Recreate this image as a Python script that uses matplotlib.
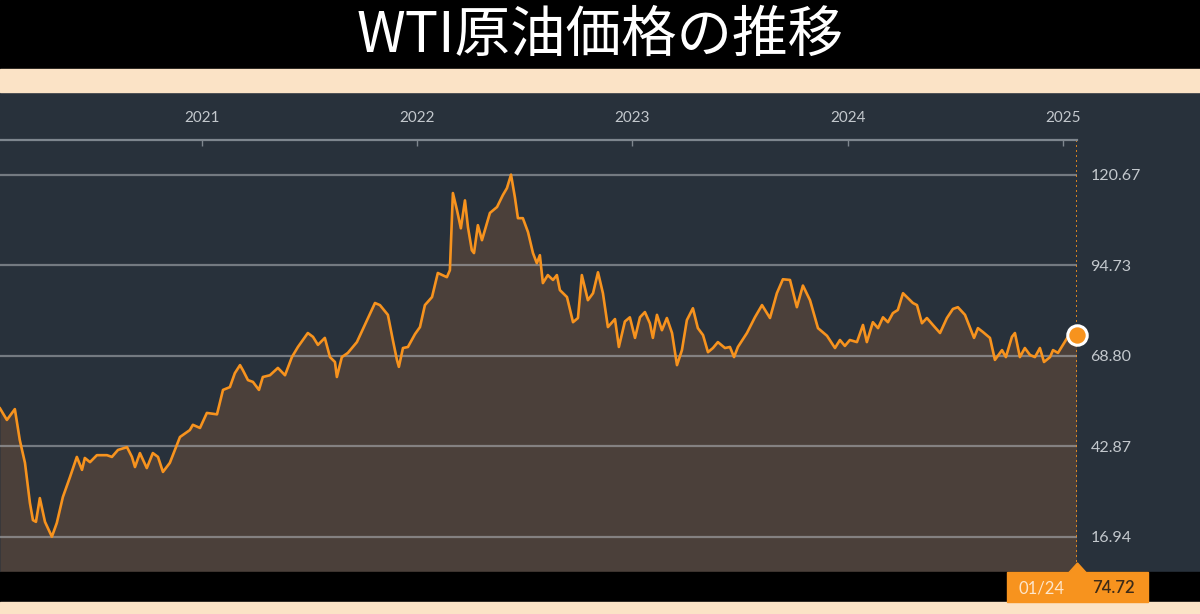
import matplotlib
matplotlib.use("Agg")
import matplotlib.pyplot as plt
from matplotlib.patches import Rectangle, Polygon

# ── Data (weekly WTI, decimal years) ─────────────────────────────────────────
dates = [
    2020.062, 2020.094, 2020.131, 2020.154, 2020.178, 2020.201, 2020.215, 2020.229,
    2020.247, 2020.271, 2020.303, 2020.326, 2020.354, 2020.387, 2020.419, 2020.443,
    2020.456, 2020.480, 2020.512, 2020.559, 2020.582, 2020.610, 2020.652, 2020.675,
    2020.689, 2020.712, 2020.744, 2020.772, 2020.796, 2020.819, 2020.851, 2020.898,
    2020.944, 2020.958, 2020.991, 2021.023, 2021.070, 2021.098, 2021.130, 2021.153,
    2021.177, 2021.190, 2021.214, 2021.237, 2021.265, 2021.283, 2021.316, 2021.353,
    2021.386, 2021.418, 2021.446, 2021.492, 2021.516, 2021.539, 2021.571, 2021.595,
    2021.618, 2021.627, 2021.650, 2021.678, 2021.720, 2021.767, 2021.804, 2021.827,
    2021.864, 2021.887, 2021.906, 2021.915, 2021.934, 2021.957, 2021.990, 2022.013,
    2022.036, 2022.069, 2022.096, 2022.138, 2022.152, 2022.166, 2022.185, 2022.203,
    2022.222, 2022.236, 2022.254, 2022.264, 2022.282, 2022.301, 2022.324, 2022.338,
    2022.371, 2022.398, 2022.417, 2022.436, 2022.454, 2022.468, 2022.491, 2022.515,
    2022.538, 2022.556, 2022.570, 2022.584, 2022.607, 2022.631, 2022.649, 2022.663,
    2022.696, 2022.724, 2022.747, 2022.765, 2022.793, 2022.817, 2022.840, 2022.863,
    2022.886, 2022.919, 2022.937, 2022.965, 2022.988, 2023.012, 2023.035, 2023.058,
    2023.081, 2023.095, 2023.114, 2023.137, 2023.160, 2023.184, 2023.207, 2023.230,
    2023.253, 2023.281, 2023.304, 2023.328, 2023.351, 2023.374, 2023.397, 2023.430,
    2023.453, 2023.472, 2023.490, 2023.532, 2023.569, 2023.602, 2023.639, 2023.671,
    2023.699, 2023.732, 2023.764, 2023.792, 2023.825, 2023.862, 2023.904, 2023.941,
    2023.964, 2023.987, 2024.010, 2024.043, 2024.071, 2024.089, 2024.117, 2024.141,
    2024.164, 2024.187, 2024.210, 2024.233, 2024.257, 2024.280, 2024.303, 2024.322,
    2024.345, 2024.368, 2024.396, 2024.429, 2024.461, 2024.489, 2024.512, 2024.545,
    2024.587, 2024.605, 2024.628, 2024.661, 2024.684, 2024.717, 2024.735, 2024.763,
    2024.777, 2024.800, 2024.823, 2024.847, 2024.870, 2024.893, 2024.912, 2024.940,
    2024.954, 2024.977, 2025.000, 2025.023, 2025.063,
]
prices = [
    53.7, 50.4, 53.5, 44.6, 38.1, 26.6, 21.7, 21.2,
    28.0, 21.2, 16.94, 20.9, 28.3, 34.0, 39.8, 36.1,
    39.5, 38.3, 40.3, 40.3, 39.8, 41.8, 42.6, 39.8,
    36.9, 40.9, 36.6, 40.9, 39.8, 35.5, 38.1, 45.5,
    47.5, 49.0, 48.1, 52.4, 52.0, 59.0, 59.8, 63.8,
    66.1, 64.7, 61.8, 61.3, 59.0, 62.7, 63.2, 65.3,
    63.2, 68.4, 71.3, 75.3, 74.2, 71.9, 73.9, 68.4,
    67.0, 62.7, 68.4, 69.6, 72.7, 79.0, 83.9, 83.3,
    80.5, 73.3, 67.6, 65.6, 71.0, 71.3, 75.0, 77.0,
    83.3, 85.6, 92.5, 91.3, 93.3, 115.4, 110.5, 105.3,
    113.3, 105.6, 99.0, 98.2, 106.2, 101.9, 106.8, 109.7,
    111.4, 114.8, 116.8, 120.67, 114.2, 108.2, 108.2, 104.2,
    98.2, 95.3, 97.6, 89.6, 91.9, 90.5, 91.9, 87.6,
    85.6, 78.4, 79.6, 91.9, 84.7, 86.7, 92.7, 86.7,
    77.0, 79.3, 71.3, 78.6, 79.8, 73.9, 79.8, 81.3,
    78.1, 73.9, 80.5, 76.1, 79.6, 75.3, 66.1, 70.4,
    79.0, 82.4, 76.7, 74.7, 69.8, 71.0, 72.7, 71.0,
    71.3, 68.4, 71.3, 75.3, 79.8, 83.3, 79.6, 86.7,
    90.7, 90.5, 82.7, 88.9, 84.7, 76.7, 74.5, 71.0,
    73.3, 71.6, 73.3, 72.7, 77.6, 72.7, 78.4, 76.7,
    79.8, 78.4, 81.0, 81.9, 86.7, 85.3, 83.9, 83.3,
    78.1, 79.6, 77.6, 75.3, 79.6, 82.2, 82.7, 80.5,
    73.9, 76.7, 75.6, 73.9, 67.6, 70.4, 68.4, 74.2,
    75.3, 68.4, 71.0, 69.0, 68.4, 71.0, 67.0, 68.4,
    70.4, 69.6, 71.9, 74.2, 74.72,
]
year_ticks = [2021, 2022, 2023, 2024, 2025]
year_labels = ["2021", "2022", "2023", "2024", "2025"]
price_ticks = [16.94, 42.87, 68.80, 94.73, 120.67]
last_label = "01/24"

TITLE = "WTI原油価格の推移"

# ── Colours ──────────────────────────────────────────────────────────────────
BG = "#28313b"
FILL = "#4b403a"
ORANGE = "#f7931e"
BEIGE = "#fbe3c6"
GRID = "#b4b8bc"
TXT = "#c3c8cd"

W, H = 1200, 614
fig = plt.figure(figsize=(W / 100, H / 100), dpi=100, facecolor=BG)


def band(y0, y1, color):
    # y in pixels from the top
    fig.patches.append(Rectangle((0, 1 - y1 / H), 1, (y1 - y0) / H,
                                 transform=fig.transFigure, color=color, zorder=0))


band(0, 69, "black")
band(69, 92, BEIGE)
band(572, 602, "black")
band(602, 614, BEIGE)

fig.text(0.5, 1 - 36 / H, TITLE, ha="center", va="center", color="white",
         fontsize=40, fontweight="normal",
         family=["Noto Sans CJK JP", "DejaVu Sans"])

# ── Plot area ────────────────────────────────────────────────────────────────
ax = fig.add_axes([0, (H - 572) / H, 1076.5 / W, (572 - 140) / H])
ax.set_facecolor(BG)
ax.set_xlim(dates[0], dates[-1])
ax.set_ylim(6.83, 130.6)

ax.fill_between(dates, prices, 0, color=FILL, lw=0, zorder=1)
for v in price_ticks:
    ax.axhline(v, color=GRID, lw=1.6, alpha=0.55, zorder=2)
ax.plot(dates, prices, color=ORANGE, lw=1.9, zorder=3, solid_joinstyle="round")
ax.axvline(dates[-1], color=ORANGE, lw=1.2, ls=(0, (1.2, 1.8)), zorder=2)
ax.plot(dates[-1], prices[-1], "o", ms=14, mfc=ORANGE, mec="white", mew=2.2,
        zorder=5, clip_on=False)

for s in ("left", "right", "bottom"):
    ax.spines[s].set_visible(False)
ax.spines["top"].set_color("#7e868e")
ax.spines["top"].set_linewidth(1.6)

ax.xaxis.tick_top()
ax.set_xticks(year_ticks)
ax.set_xticklabels(year_labels)
ax.tick_params(axis="x", direction="in", length=4, width=1, color="#7e868e",
               labelcolor=TXT, labelsize=11, pad=11)
ax.yaxis.tick_right()
ax.set_yticks(price_ticks)
ax.set_yticklabels([f"{v:.2f}" for v in price_ticks])
ax.tick_params(axis="y", length=0, labelcolor=TXT, labelsize=11.5, pad=10)
for lbl in ax.get_xticklabels() + ax.get_yticklabels():
    lbl.set_family("Lato")

# ── Last value tag at the bottom ─────────────────────────────────────────────
cx = 1077.5 / W
bw = 141 / W
fig.patches.append(Rectangle((cx - bw / 2, 1 - 602 / H), bw, 30 / H,
                             transform=fig.transFigure, color=ORANGE, zorder=3))
fig.patches.append(Polygon([(cx - 9 / W, 1 - 573 / H), (cx + 9 / W, 1 - 573 / H),
                            (cx, 1 - 563 / H)], closed=True,
                           transform=fig.transFigure, color=ORANGE, zorder=3))
fig.text(cx - 36 / W, 1 - 588 / H, last_label, ha="center", va="center",
         color="#fde6cc", fontsize=12, family="Lato", zorder=4)
fig.text(cx + 36 / W, 1 - 588 / H, f"{prices[-1]:.2f}", ha="center", va="center",
         color="#3d2b18", fontsize=12, family="Lato", fontweight="semibold", zorder=4)

plt.savefig("out.png", dpi=100, facecolor=BG)
